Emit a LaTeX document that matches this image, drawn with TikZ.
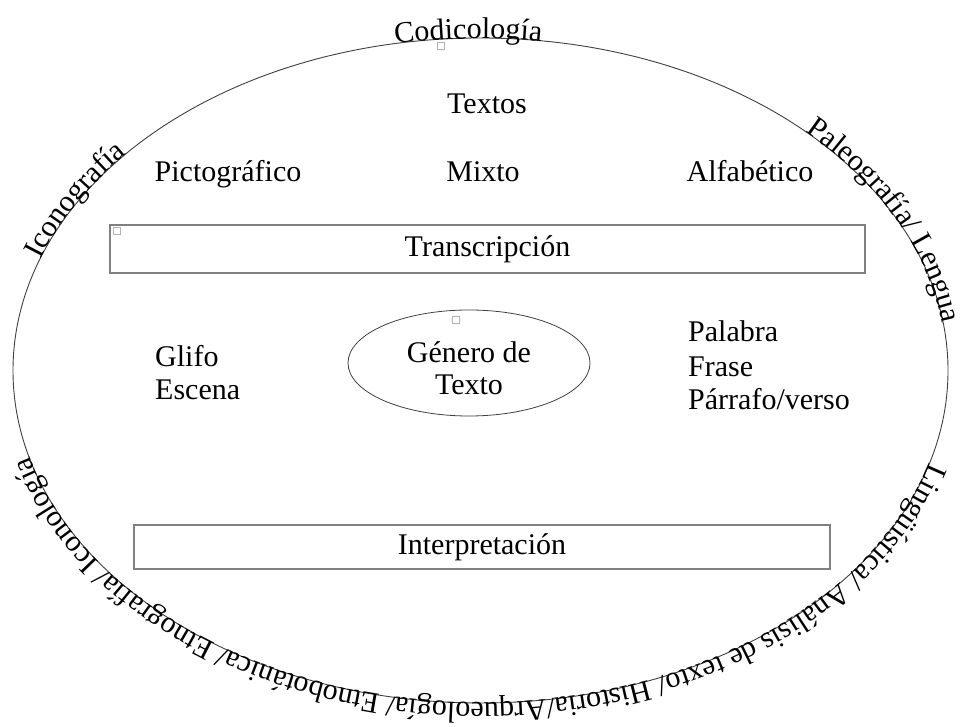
\documentclass[tikz,border=0pt]{standalone}
\usepackage{fontspec}
\setmainfont{Liberation Serif}
\usetikzlibrary{shapes.geometric,decorations.text}
\newcommand\bigfont{\fontsize{30}{34}\selectfont}
\begin{document}
\begin{tikzpicture}[x=1pt,y=1pt,font=\bigfont,
  rimline/.style={draw=black!75, line width=0.9pt},
  boxstyle/.style={draw=black!50, line width=1.6pt, inner sep=0pt},
  tinysq/.style={draw=black!30, line width=0.6pt, inner sep=0pt, minimum size=7pt},
  lbl/.style={inner sep=0pt, anchor=base},
  lbw/.style={inner sep=0pt, anchor=base west},
  arctext/.style={decorate, decoration={text along path, text={|\bigfont|#1}, raise=-0.5pt}}]
\useasboundingbox (0,0) rectangle (960,727);
\coordinate (C) at (480.5,356.5);
\draw[rimline] (C) ellipse[x radius=467.5pt, y radius=332.5pt];
% curved texts
\path[arctext=Codicología] (C) ++(100.5:467.5pt and 332.5pt)
  arc[start angle=100.5, end angle=60, x radius=467.5pt, y radius=332.5pt];
\path[arctext=Iconografía] (C) ++(160.5:467.5pt and 332.5pt)
  arc[start angle=160.5, end angle=120, x radius=467.5pt, y radius=332.5pt];
\path[arctext=Paleografía/ Lengua] (C) ++(46:467.5pt and 332.5pt)
  arc[start angle=46, end angle=-20, x radius=467.5pt, y radius=332.5pt];
\path[arctext=Lingüística/ Análisis de texto/ Historia/Arqueología/ Etnobotánica/ Etnografía/ Iconología]
  (C) ++(-16:467.5pt and 332.5pt)
  arc[start angle=-16, end angle=-200, x radius=467.5pt, y radius=332.5pt];
% labels
\node[lbl] (textos) at (487,613) {Textos};
\node[lbl] (picto) at (228,545) {Pictográfico};
\node[lbl] (mixto) at (483,545) {Mixto};
\node[lbl] (alfa) at (750,545) {Alfabético};
\node[boxstyle, minimum width=755pt, minimum height=48pt] (trans) at (487.5,478) {Transcripción};
\node[lbw] (glifo) at (155,360) {Glifo};
\node[lbw] (escena) at (155,327) {Escena};
\node[draw=black!75, line width=0.8pt, ellipse, minimum width=242pt, minimum height=106pt, inner sep=0pt] (genero) at (469,364) {};
\node[lbl] (gen1) at (469,364) {Género de};
\node[lbl] (gen2) at (469,332) {Texto};
\node[lbw] (palabra) at (688,385) {Palabra};
\node[lbw] (frase) at (688,350) {Frase};
\node[lbw] (parrafo) at (688,317) {Párrafo/verso};
\node[boxstyle, minimum width=696pt, minimum height=44pt] (interp) at (482,180) {Interpretación};
% small squares
\node[tinysq] (sq1) at (440.5,681) {};
\node[tinysq] (sq2) at (117,496) {};
\node[tinysq] (sq3) at (456,407) {};
\end{tikzpicture}
\end{document}
